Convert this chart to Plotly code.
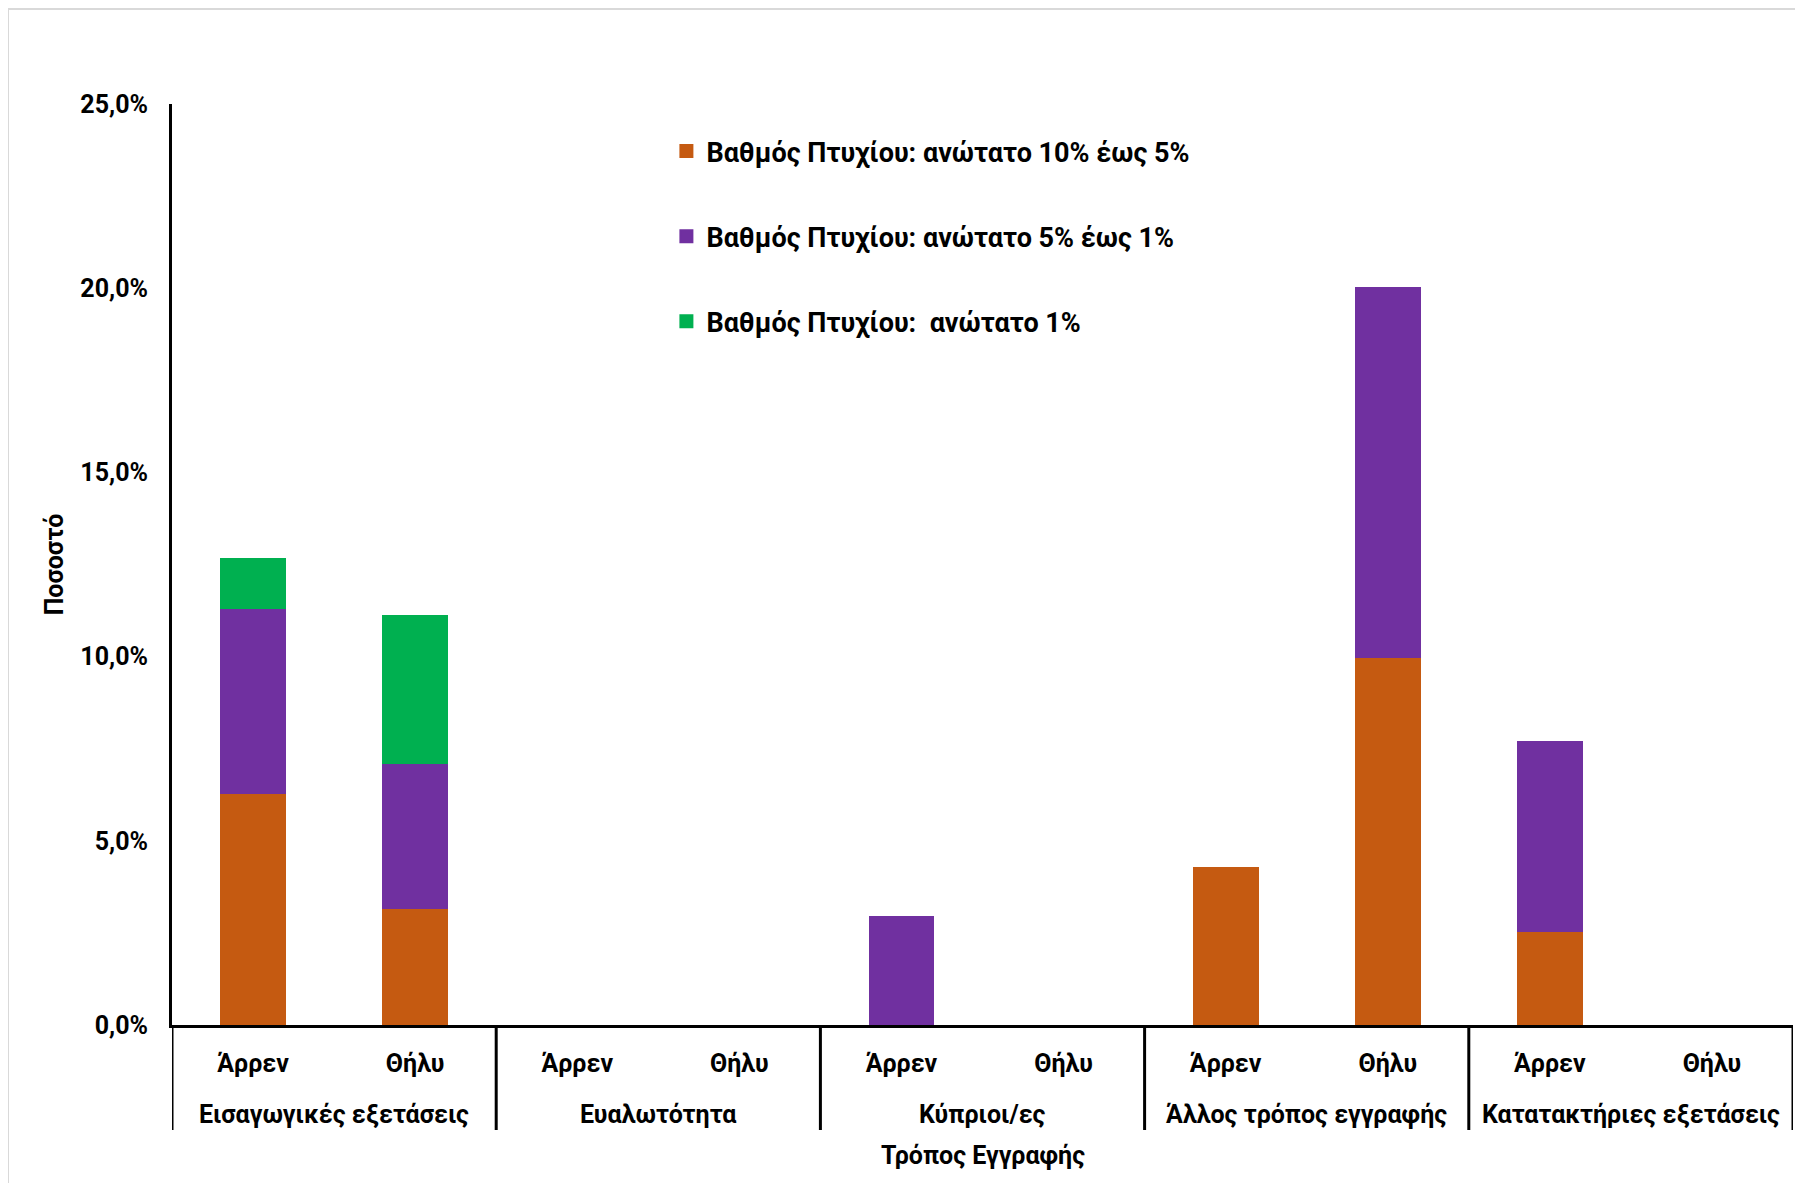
import plotly.graph_objects as go

groups = ["Εισαγωγικές εξετάσεις", "Ευαλωτότητα", "Κύπριοι/ες",
          "Άλλος τρόπος εγγραφής", "Κατατακτήριες εξετάσεις"]
sexes = ["Άρρεν", "Θήλυ"]

series_names = [
    "Βαθμός Πτυχίου: ανώτατο 10% έως 5%",
    "Βαθμός Πτυχίου: ανώτατο 5% έως 1%",
    "Βαθμός Πτυχίου:  ανώτατο 1%",
]
# values in percent, order: (group, sex) pairs
top10_5 = [6.30, 3.17, 0.0, 0.0, 0.0, 0.0, 4.27, 10.0, 2.55, 0.0]
top5_1 = [5.02, 3.94, 0.0, 0.0, 2.92, 0.0, 0.0, 10.0, 5.12, 0.0]
top1 = [1.32, 4.00, 0.0, 0.0, 0.0, 0.0, 0.0, 0.0, 0.0, 0.0]
colors = ["#C55A11", "#7030A0", "#00B050"]

y_ticks = [0, 5, 10, 15, 20, 25]
y_ticktext = [f"{v:.1f}".replace(".", ",") + "%" for v in y_ticks]

x_level0 = [g for g in groups for _ in sexes]
x_level1 = [s for _ in groups for s in sexes]
x_idx = list(range(len(x_level1)))

FONT = "Roboto"
FS = 25
BLACK_BOLD = dict(family=FONT, size=FS, color="black", weight="bold")

W, H = 1787, 1175
ML, MR, MT, MB = 164, 2, 96, 158

fig = go.Figure()
for i, (name, vals) in enumerate(zip(series_names, [top10_5, top5_1, top1])):
    fig.add_trace(go.Bar(
        x=x_idx, y=vals, name=name,
        customdata=list(zip(x_level0, x_level1)),
        hovertemplate="%{customdata[0]} – %{customdata[1]}<br>%{y:.1f}%<extra>" + name + "</extra>",
        marker=dict(color=colors[i],
                    line=dict(width=[2 if v > 0 else 0 for v in vals], color=colors[i])),
        legendgroup=f"g{i}",
    ))

fig.update_layout(
    width=W, height=H,
    barmode="stack", bargap=0.607,
    paper_bgcolor="white", plot_bgcolor="white",
    margin=dict(l=ML, r=MR, t=MT, b=MB),
    font=BLACK_BOLD,
    legend=dict(
        x=0.305, y=0.975, xanchor="left", yanchor="top",
        traceorder="grouped", tracegroupgap=47,
        font=dict(family=FONT, size=27, color="black", weight="bold"),
        bgcolor="rgba(0,0,0,0)",
    ),
    xaxis=dict(
        range=[-0.5, len(x_idx) - 0.5],
        tickvals=x_idx, ticktext=x_level1,
        showline=True, linecolor="black", linewidth=3,
        showgrid=False, zeroline=False, ticks="",
        ticklabelstandoff=14,
        tickfont=BLACK_BOLD,
    ),
    yaxis=dict(
        range=[0, 25], tickvals=y_ticks, ticktext=y_ticktext,
        showline=True, linecolor="black", linewidth=3,
        showgrid=False, zeroline=False, ticks="",
        ticklabelstandoff=16,
        tickfont=BLACK_BOLD,
        title=dict(text="Ποσοστό", standoff=10, font=BLACK_BOLD),
    ),
)

n = len(sexes)
# group dividers on the category axis
for k in range(len(groups) + 1):
    fig.add_shape(type="line", xref="x", yref="paper",
                  ysizemode="pixel", yanchor=0,
                  x0=k * n - 0.5, x1=k * n - 0.5, y0=0, y1=-105,
                  line=dict(color="black", width=3))
# group labels
for k, g in enumerate(groups):
    fig.add_annotation(x=k * n + (n - 1) / 2, xref="x", y=0, yref="paper",
                       yanchor="middle", yshift=-89, text=g, showarrow=False,
                       font=BLACK_BOLD)
# x axis title
fig.add_annotation(x=0.5, xref="paper", y=0, yref="paper", yanchor="middle",
                   yshift=-130, text="Τρόπος Εγγραφής", showarrow=False,
                   font=BLACK_BOLD)

# light chart-area border like the original
pw = W - ML - MR
ph = H - MT - MB
fig.add_shape(type="rect", xref="paper", yref="paper",
              x0=-ML / pw, x1=1.05, y0=-0.3, y1=1 + (MT - 1) / ph,
              line=dict(color="#D9D9D9", width=2), fillcolor="rgba(0,0,0,0)",
              layer="below")

fig.write_html("out.html")
